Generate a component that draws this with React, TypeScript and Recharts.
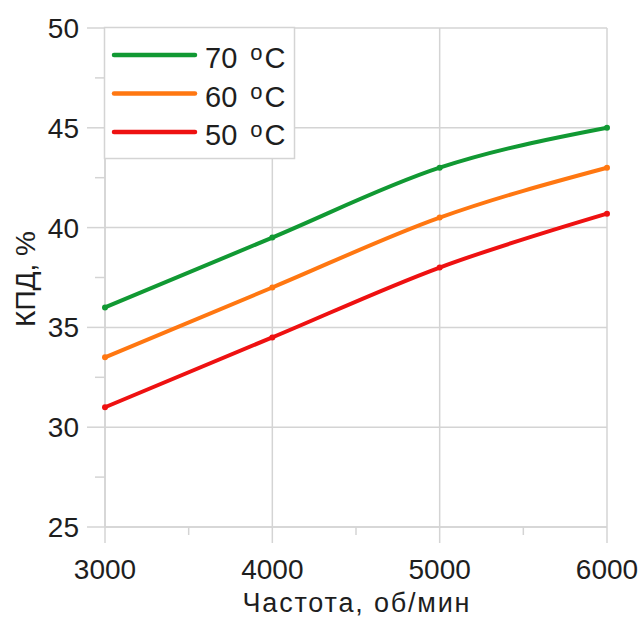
import React from 'react';
import { LineChart, Line, XAxis, YAxis, CartesianGrid } from 'recharts';

const rpm = [3000, 4000, 5000, 6000];
const eff70 = [36, 39.5, 43, 45];
const eff60 = [33.5, 37, 40.5, 43];
const eff50 = [31, 34.5, 38, 40.7];
const xTicks = [3000, 3500, 4000, 4500, 5000, 5500, 6000];
const xMajor = [3000, 4000, 5000, 6000];
const yTicks = [25, 27.5, 30, 32.5, 35, 37.5, 40, 42.5, 45, 47.5, 50];
const yMajor = [25, 30, 35, 40, 45, 50];
const seriesNames = ['70', '60', '50'];
const seriesColors = ['#119933', '#ff7711', '#ee1111'];
const seriesKeys = ['t70', 't60', 't50'];
const xTitle = 'Частота, об/мин';
const yTitle = 'КПД, %';

const data = rpm.map((r, i) => ({ rpm: r, t70: eff70[i], t60: eff60[i], t50: eff50[i] }));

const FONT = '"Liberation Sans", Arial, sans-serif';
const GRID = '#d4d4d4';
const TEXT = '#1e1e1e';

const YTick = (props: any) => {
  const { x, y, payload } = props;
  const major = yMajor.includes(payload.value);
  return (
    <g>
      <line x1={x - (major ? 18 : 10)} x2={x} y1={y} y2={y} stroke={GRID} strokeWidth={1.5} />
      {major && (
        <text x={x - 26} y={y + 10} textAnchor="end" fontSize={28} fill={TEXT} fontFamily={FONT}>
          {payload.value}
        </text>
      )}
    </g>
  );
};

const XTick = (props: any) => {
  const { x, y, payload } = props;
  const major = xMajor.includes(payload.value);
  return (
    <g>
      <line x1={x} x2={x} y1={y} y2={y + (major ? 16 : 8)} stroke={GRID} strokeWidth={1.5} />
      {major && (
        <text x={x} y={y + 52} textAnchor="middle" fontSize={28} fill={TEXT} fontFamily={FONT}>
          {payload.value}
        </text>
      )}
    </g>
  );
};

const XLabel = (props: any) => {
  const vb = props.viewBox;
  const cx = vb.x + vb.width / 2;
  return (
    <text x={cx} y={612} textAnchor="middle" fontSize={27} fill={TEXT} fontFamily={FONT} textLength={227} lengthAdjust="spacing">
      {xTitle}
    </text>
  );
};

const YLabel = (props: any) => {
  const vb = props.viewBox;
  const cy = vb.y + vb.height / 2 + 1.5;
  return (
    <text x={35} y={cy} transform={`rotate(-90, 35, ${cy})`} textAnchor="middle" fontSize={28} fill={TEXT} fontFamily={FONT}>
      {yTitle}
    </text>
  );
};

const LegendBox = () => (
  <svg width={643} height={617} style={{ position: 'absolute', left: 0, top: 0, pointerEvents: 'none' }}>
    <rect x={104.5} y={27.5} width={190} height={131} fill="#fff" stroke={GRID} strokeWidth={1.5} />
    {seriesNames.map((n, i) => {
      const ly = 55 + i * 38.5;
      return (
        <g key={n}>
          <line x1={114} x2={195} y1={ly} y2={ly} stroke={seriesColors[i]} strokeWidth={4.5} strokeLinecap="round" />
          <text x={205} y={ly + 13} fontSize={29} fill={TEXT} fontFamily={FONT}>
            {n + ' '}
            <tspan fontSize={22} dx={5} dy={-8}>o</tspan>
            <tspan dx={2} dy={8}>C</tspan>
          </text>
        </g>
      );
    })}
  </svg>
);

export default function App() {
  return (
    <div style={{ position: 'absolute', left: 0, top: 0, width: 643, height: 617, background: '#fff' }}>
      <LineChart width={643} height={617} data={data} margin={{ top: 28, right: 36, bottom: 0, left: 0 }}>
        <CartesianGrid stroke={GRID} strokeWidth={1.5} horizontalValues={yMajor} verticalValues={xMajor} />
        <XAxis
          dataKey="rpm"
          type="number"
          domain={[3000, 6000]}
          ticks={xTicks}
          interval={0}
          height={90}
          tickLine={false}
          tickSize={0}
          tickMargin={0}
          axisLine={{ stroke: GRID, strokeWidth: 1.5 }}
          tick={<XTick />}
          label={<XLabel />}
        />
        <YAxis
          type="number"
          domain={[25, 50]}
          ticks={yTicks}
          interval={0}
          width={105}
          tickLine={false}
          tickSize={0}
          tickMargin={0}
          axisLine={{ stroke: GRID, strokeWidth: 1.5 }}
          tick={<YTick />}
          label={<YLabel />}
        />
        {seriesKeys.slice().reverse().map((k, ri) => {
          const i = seriesKeys.length - 1 - ri;
          return (
            <Line
              key={k}
              dataKey={k}
              type="monotone"
              stroke={seriesColors[i]}
              strokeWidth={4}
              dot={{ r: 3, fill: seriesColors[i], stroke: 'none' }}
              isAnimationActive={false}
            />
          );
        })}
      </LineChart>
      <LegendBox />
    </div>
  );
}
